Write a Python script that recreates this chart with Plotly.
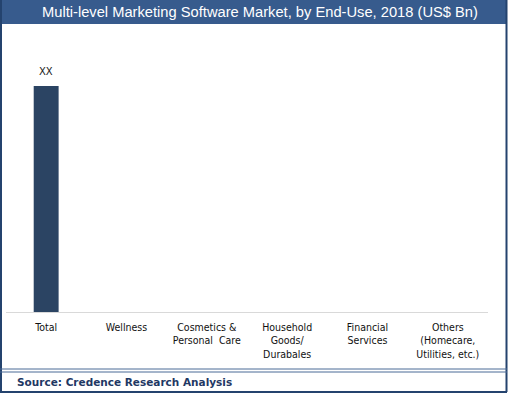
import plotly.graph_objects as go

categories = ["Total", "Wellness", "Cosmetics &<br>Personal  Care", "Household<br>Goods/<br>Durabales",
              "Financial<br>Services", "Others<br>(Homecare,<br>Utilities, etc.)"]
values = [100, 0, 0, 0, 0, 0]
labels = ["XX", "", "", "", "", ""]

W, H = 508, 393
fig = go.Figure(go.Bar(
    x=categories, y=values,
    marker=dict(color="#2b4463", line=dict(width=0)),
    cliponaxis=False, hoverinfo="x+y",
))

value_annotations = [
    dict(x=c, y=v, text=t, xref="x", yref="y", showarrow=False, yanchor="bottom", yshift=7,
         font=dict(family="DejaVu Sans", size=10, color="#222222"))
    for c, v, t in zip(categories, values, labels) if t
]

fig.update_layout(
    width=W, height=H,
    margin=dict(l=6, r=20, t=28, b=81),
    paper_bgcolor="white", plot_bgcolor="white",
    bargap=0.69, showlegend=False,
    xaxis=dict(showline=True, linecolor="#d9d9d9", linewidth=1, ticks="", ticklabelstandoff=5,
               tickfont=dict(family="DejaVu Sans Condensed, DejaVu Sans", size=10.5, color="#111111"),
               showgrid=False, fixedrange=True),
    yaxis=dict(range=[0, 125.7], visible=False, showgrid=False, fixedrange=True),
    shapes=[
        # title bar
        dict(type="rect", xref="paper", yref="paper", x0=-6/482, x1=(507-6)/482,
             y0=1 + 4/284, y1=1 + 28/284, fillcolor="#375b8d", line=dict(width=0), layer="below"),
        # left border
        dict(type="line", xref="paper", yref="paper", x0=-5/482, x1=-5/482,
             y0=-(392-312)/284, y1=1 + 28/284, line=dict(color="#24436e", width=2)),
        # right border
        dict(type="line", xref="paper", yref="paper", x0=(506.5-6)/482, x1=(506.5-6)/482,
             y0=-(392-312)/284, y1=1 + 28/284, line=dict(color="#24436e", width=2)),
        # bottom border
        dict(type="line", xref="paper", yref="paper", x0=-6/482, x1=(507-6)/482,
             y0=-(392-312)/284, y1=-(392-312)/284, line=dict(color="#24436e", width=2)),
        # source separator double line
        dict(type="line", xref="paper", yref="paper", x0=-6/482, x1=(507-6)/482,
             y0=-(369-312)/284, y1=-(369-312)/284, line=dict(color="#4a6a96", width=1)),
        dict(type="line", xref="paper", yref="paper", x0=-6/482, x1=(507-6)/482,
             y0=-(372-312)/284, y1=-(372-312)/284, line=dict(color="#4a6a96", width=1)),
    ],
    annotations=value_annotations + [
        dict(text="Multi-level Marketing Software Market, by End-Use, 2018 (US$ Bn)",
             xref="paper", yref="paper", x=(260-6)/482, y=1 + 16/284,
             xanchor="center", yanchor="middle", showarrow=False,
             font=dict(family="Liberation Sans, Arial", size=14.7, color="white")),
        dict(text="<b>Source: Credence Research Analysis</b>",
             xref="paper", yref="paper", x=(15-6)/482, y=-(382-312)/284,
             xanchor="left", yanchor="middle", showarrow=False,
             font=dict(family="DejaVu Sans, Verdana", size=10.5, color="#1f3864")),
    ],
)

fig.write_html("out.html", config={"displayModeBar": False},
               post_script="document.body.style.margin='0';document.body.style.overflow='hidden';")
